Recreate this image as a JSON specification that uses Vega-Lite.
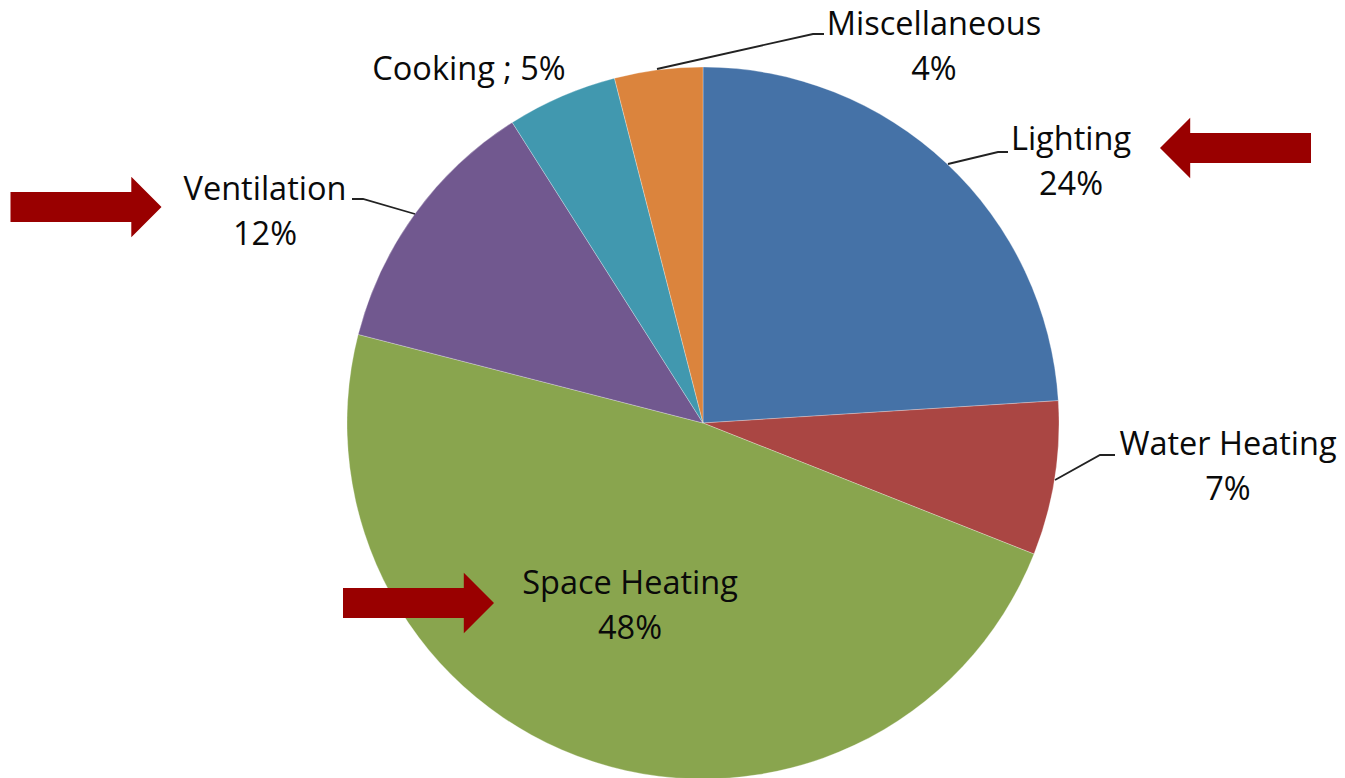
{
  "$schema": "https://vega.github.io/schema/vega-lite/v6.json",
  "width": 1284,
  "height": 710,
  "autosize": "none",
  "padding": {"left": 61, "top": 68, "right": 0, "bottom": 0},
  "background": "white",
  "config": {"view": {"stroke": null}},
  "datasets": {
    "slices": [
      {"cat": "Lighting", "pct": 24, "ord": 1},
      {"cat": "Water Heating", "pct": 7, "ord": 2},
      {"cat": "Space Heating", "pct": 48, "ord": 3},
      {"cat": "Ventilation", "pct": 12, "ord": 4},
      {"cat": "Cooking", "pct": 5, "ord": 5},
      {"cat": "Miscellaneous", "pct": 4, "ord": 6}
    ],
    "labels": [
      {"label": "Miscellaneous\n4%", "lx": 231, "ly": 388},
      {"label": "Lighting\n24%", "lx": 368, "ly": 273},
      {"label": "Water Heating\n7%", "lx": 525, "ly": -32},
      {"label": "Space Heating\n48%", "lx": -73, "ly": -171},
      {"label": "Ventilation\n12%", "lx": -438, "ly": 223},
      {"label": "Cooking ; 5%", "lx": -234, "ly": 343}
    ],
    "leaders": [
      {"id": "Miscellaneous", "seq": 1, "lx": -46, "ly": 354},
      {"id": "Miscellaneous", "seq": 2, "lx": 110, "ly": 389},
      {"id": "Miscellaneous", "seq": 3, "lx": 121, "ly": 389},
      {"id": "Lighting", "seq": 1, "lx": 245, "ly": 259},
      {"id": "Lighting", "seq": 2, "lx": 295, "ly": 271},
      {"id": "Lighting", "seq": 3, "lx": 305, "ly": 271},
      {"id": "Water Heating", "seq": 1, "lx": 352, "ly": -57},
      {"id": "Water Heating", "seq": 2, "lx": 397, "ly": -32},
      {"id": "Water Heating", "seq": 3, "lx": 412, "ly": -32},
      {"id": "Ventilation", "seq": 1, "lx": -288, "ly": 209},
      {"id": "Ventilation", "seq": 2, "lx": -340, "ly": 224},
      {"id": "Ventilation", "seq": 3, "lx": -351, "ly": 224}
    ],
    "arrows": [
      {"target": "Lighting", "dir": "left", "lx": 532.5, "ly": 275},
      {"target": "Ventilation", "dir": "right", "lx": -617, "ly": 216},
      {"target": "Space Heating", "dir": "right", "lx": -284.5, "ly": -180}
    ]
  },
  "layer": [
    {
      "data": {"name": "slices"},
      "mark": {"type": "arc", "outerRadius": 356, "stroke": "white", "strokeWidth": 0.4, "strokeOpacity": 0.7},
      "encoding": {
        "theta": {"field": "pct", "type": "quantitative", "stack": true},
        "order": {"field": "ord", "type": "quantitative"},
        "color": {
          "field": "cat",
          "type": "nominal",
          "legend": null,
          "scale": {
            "domain": ["Lighting", "Water Heating", "Space Heating", "Ventilation", "Cooking", "Miscellaneous"],
            "range": ["#4572A7", "#AA4643", "#89A54E", "#71588F", "#4198AF", "#DB843D"]
          }
        }
      }
    },
    {
      "data": {"name": "leaders"},
      "mark": {"type": "line", "color": "#222222", "strokeWidth": 1.8},
      "encoding": {
        "x": {"field": "lx", "type": "quantitative", "axis": null, "scale": {"domain": [-642, 642], "nice": false, "zero": false}},
        "y": {"field": "ly", "type": "quantitative", "axis": null, "scale": {"domain": [-355, 355], "nice": false, "zero": false}},
        "detail": {"field": "id"},
        "order": {"field": "seq", "type": "quantitative"}
      }
    },
    {
      "data": {"name": "labels"},
      "mark": {"type": "text", "font": "Open Sans", "fontSize": 32.5, "color": "#0a0a0a", "align": "center", "baseline": "alphabetic", "lineBreak": "\n", "lineHeight": 45},
      "encoding": {
        "x": {"field": "lx", "type": "quantitative"},
        "y": {"field": "ly", "type": "quantitative"},
        "text": {"field": "label"}
      }
    },
    {
      "data": {"name": "arrows"},
      "mark": {"type": "point", "filled": true, "size": 22801, "color": "#990000", "opacity": 1, "strokeWidth": 0},
      "encoding": {
        "x": {"field": "lx", "type": "quantitative"},
        "y": {"field": "ly", "type": "quantitative"},
        "shape": {
          "field": "dir",
          "type": "nominal",
          "legend": null,
          "scale": {
            "domain": ["left", "right"],
            "range": [
              "M -1 0 L -0.6 -0.4 L -0.6 -0.2 L 1 -0.2 L 1 0.2 L -0.6 0.2 L -0.6 0.4 Z",
              "M 1 0 L 0.6 -0.4 L 0.6 -0.2 L -1 -0.2 L -1 0.2 L 0.6 0.2 L 0.6 0.4 Z"
            ]
          }
        }
      }
    }
  ]
}
